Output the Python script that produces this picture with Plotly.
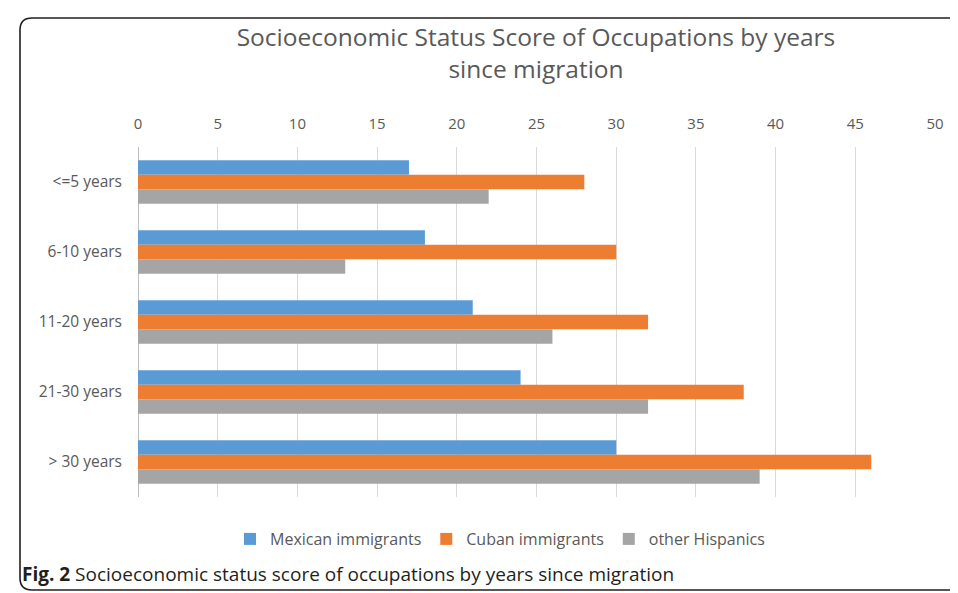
import plotly.graph_objects as go

categories = ["<=5 years", "6-10 years", "11-20 years", "21-30 years", "> 30 years"]
mexican = [17, 18, 21, 24, 30]
cuban = [28, 30, 32, 38, 46]
other = [22, 13, 26, 32, 39]
series_names = ["Mexican immigrants", "Cuban immigrants", "other Hispanics"]
colors = ["#5B9BD5", "#ED7D31", "#A5A5A5"]
x_ticks = [0, 5, 10, 15, 20, 25, 30, 35, 40, 45, 50]

FONT = "Open Sans"
OFF = 8  # page body margin offset
W, H = 958 - OFF, 593 - OFF
L, T = 138 - OFF, 147 - OFF
R = W - (935 - OFF)
B = H - (497 - OFF)
pw, ph = W - L - R, H - T - B

def px_x(p):
    return (p - OFF - L) / pw

def px_y(p):
    return (H - B - (p - OFF)) / ph

fig = go.Figure()
for name, vals, col in zip(series_names, [mexican, cuban, other], colors):
    fig.add_trace(go.Bar(
        y=categories, x=vals, name=name, orientation="h",
        marker=dict(color=col, line=dict(width=0)),
    ))

# rounded frame (open on the right, running off the picture)
x0, x1 = px_x(20), px_x(958)
y0, y1 = px_y(590), px_y(18)
rx, ry = 12 / pw, 12 / ph
path = (f"M {x1},{y1} L {x0+rx},{y1} Q {x0},{y1} {x0},{y1-ry} "
        f"L {x0},{y0+ry} Q {x0},{y0} {x0+rx},{y0} L {x1},{y0}")

fig.update_layout(
    width=W, height=H,
    margin=dict(l=L, r=R, t=T, b=B),
    paper_bgcolor="white", plot_bgcolor="white",
    barmode="group", bargap=0.38, bargroupgap=0,
    font=dict(family=FONT, color="#595959", size=15),
    title=dict(
        text="Socioeconomic Status Score of Occupations by years<br>since migration",
        x=(536 - OFF) / W, xref="container", xanchor="center",
        y=1 - (46 - OFF) / H, yref="container", yanchor="middle",
        font=dict(family=FONT, size=24.5, color="#595959"),
    ),
    xaxis=dict(
        side="top", range=[0, 50], tickvals=x_ticks,
        showgrid=True, gridcolor="#d9d9d9", gridwidth=1,
        zeroline=True, zerolinecolor="#bfbfbf", zerolinewidth=1,
        showline=False, ticks="", ticklabelstandoff=14,
        tickfont=dict(size=15, color="#595959"),
    ),
    yaxis=dict(
        autorange="reversed", showgrid=False, zeroline=False, showline=False,
        ticks="", ticklabelstandoff=15, tickfont=dict(size=15.5, color="#595959"),
    ),
    legend=dict(
        orientation="h", x=px_x(500), xanchor="center",
        y=px_y(539), yanchor="middle",
        font=dict(size=16, color="#595959"), itemwidth=30,
        traceorder="normal",
    ),
    shapes=[dict(type="path", xref="paper", yref="paper", path=path,
                 line=dict(color="#231f20", width=1.6), layer="above")],
    annotations=[dict(
        text="<b>Fig. 2</b> Socioeconomic status score of occupations by years since migration",
        xref="paper", yref="paper", x=px_x(20), y=px_y(574),
        xanchor="left", yanchor="middle", showarrow=False,
        font=dict(family=FONT, size=19, color="#231f20"),
    )],
)

fig.write_html("out.html")
